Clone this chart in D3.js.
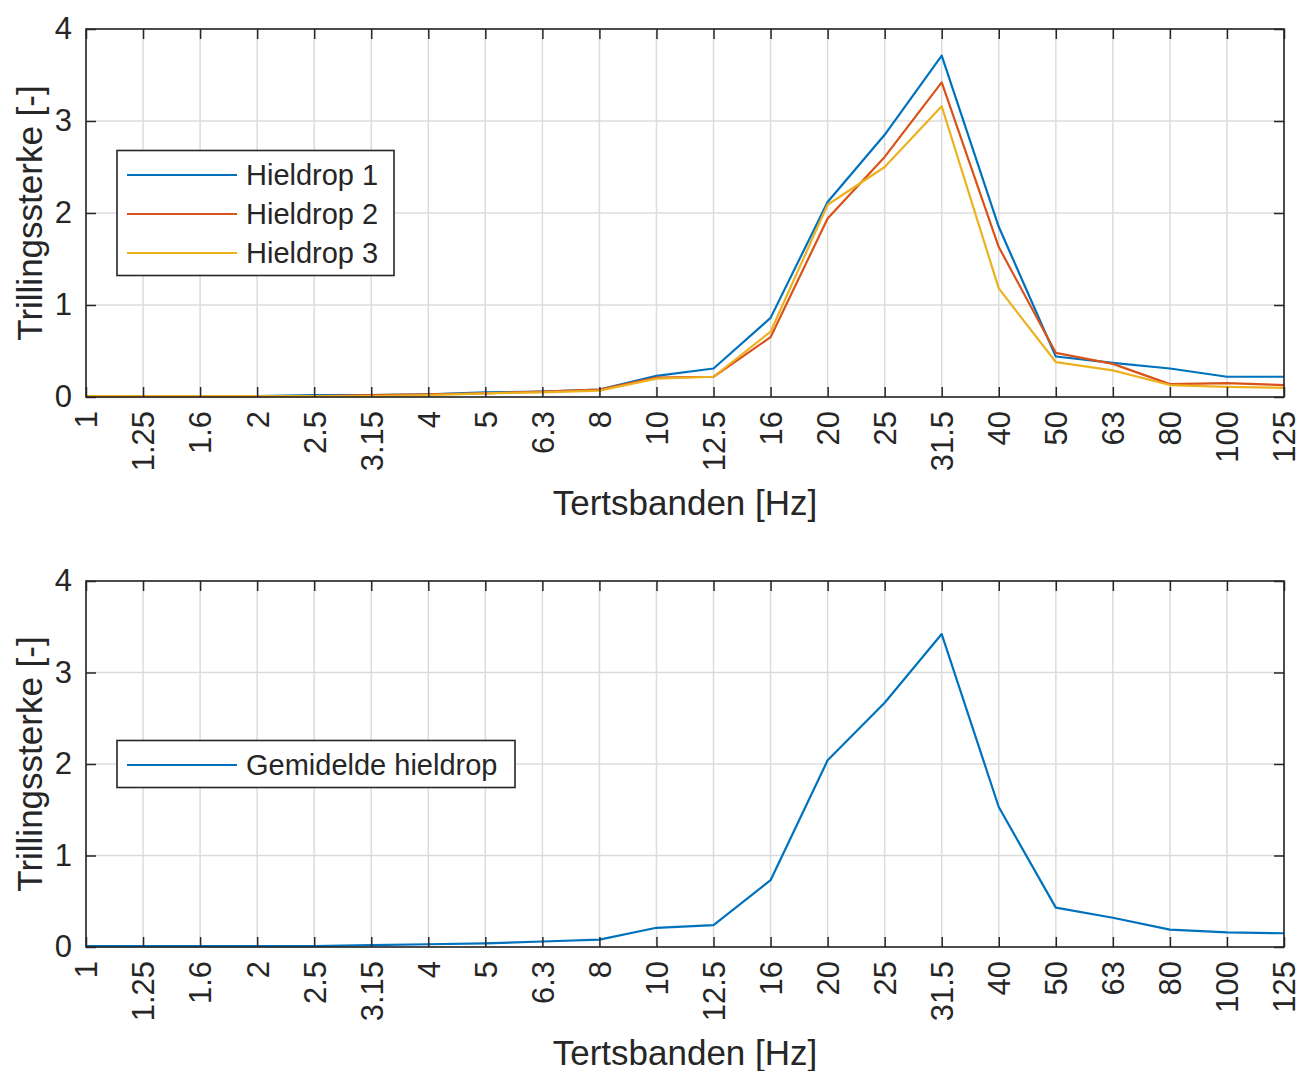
<!DOCTYPE html>
<html>
<head>
  <meta charset="utf-8">
  <title>Trillingssterke per tertsband</title>
  <script src="https://d3js.org/d3.v7.min.js"></script>
  <style>
    body { margin: 0; background: #fff; }
    text { font-family: "Liberation Sans", Arial, sans-serif; fill: #262626; }
  </style>
</head>
<body>
  <svg id="chart"></svg>

  <script>
    // tertsbanden (Hz)
    const bands = ["1", "1.25", "1.6", "2", "2.5", "3.15", "4", "5", "6.3", "8", "10",
      "12.5", "16", "20", "25", "31.5", "40", "50", "63", "80", "100", "125"];

    const hieldrop1 = [0.01, 0.01, 0.01, 0.01, 0.02, 0.02, 0.03, 0.05, 0.06, 0.08, 0.23,
      0.31, 0.86, 2.12, 2.85, 3.71, 1.85, 0.44, 0.37, 0.31, 0.22, 0.22];
    const hieldrop2 = [0.01, 0.01, 0.01, 0.01, 0.01, 0.02, 0.03, 0.04, 0.06, 0.08, 0.21,
      0.22, 0.65, 1.94, 2.61, 3.42, 1.63, 0.48, 0.36, 0.14, 0.15, 0.13];
    const hieldrop3 = [0.01, 0.01, 0.01, 0.01, 0.01, 0.01, 0.02, 0.04, 0.05, 0.07, 0.20,
      0.22, 0.71, 2.09, 2.50, 3.16, 1.18, 0.38, 0.29, 0.13, 0.11, 0.10];
    const gemiddeld = [0.01, 0.01, 0.01, 0.01, 0.01, 0.02, 0.03, 0.04, 0.06, 0.08, 0.21,
      0.24, 0.73, 2.04, 2.67, 3.42, 1.53, 0.43, 0.32, 0.19, 0.16, 0.15];

    const yTicks = [0, 1, 2, 3, 4];

    const width = 1302;
    const height = 1071;
    const svg = d3.select("#chart")
      .attr("width", width)
      .attr("height", height);

    const left = 86, right = 1284;
    const x = d3.scalePoint().domain(bands).range([left, right]);

    function panel(top, bottom, series, legendW) {
      const y = d3.scaleLinear().domain([0, 4]).range([bottom, top]);
      const g = svg.append("g");

      // grid
      g.append("g").selectAll("line").data(bands).join("line")
        .attr("x1", d => x(d)).attr("x2", d => x(d))
        .attr("y1", top).attr("y2", bottom)
        .attr("stroke", "#dcdcdc").attr("stroke-width", 1.5);
      g.append("g").selectAll("line").data(yTicks).join("line")
        .attr("x1", left).attr("x2", right)
        .attr("y1", d => y(d)).attr("y2", d => y(d))
        .attr("stroke", "#dcdcdc").attr("stroke-width", 1.5);

      // lines
      const line = d3.line().x((d, i) => x(bands[i])).y(d => y(d));
      series.forEach(s => {
        g.append("path").datum(s.values)
          .attr("d", line)
          .attr("fill", "none")
          .attr("stroke", s.color)
          .attr("stroke-width", 2.2)
          .attr("stroke-linejoin", "round");
      });

      // axes with inward ticks
      const xb = g.append("g").attr("transform", `translate(0,${bottom})`)
        .call(d3.axisBottom(x).tickSizeInner(-10).tickSizeOuter(0));
      xb.selectAll("text")
        .attr("transform", "rotate(-90)")
        .attr("x", -14).attr("y", 0).attr("dy", "0.35em")
        .attr("text-anchor", "end")
        .attr("font-size", 31);
      g.append("g").attr("transform", `translate(0,${top})`)
        .call(d3.axisTop(x).tickSizeInner(-10).tickSizeOuter(0).tickFormat(""));
      const yl = g.append("g").attr("transform", `translate(${left},0)`)
        .call(d3.axisLeft(y).tickValues(yTicks).tickFormat(d3.format("d"))
          .tickSizeInner(-10).tickSizeOuter(0).tickPadding(14));
      yl.selectAll("text").attr("font-size", 31);
      g.append("g").attr("transform", `translate(${right},0)`)
        .call(d3.axisRight(y).tickValues(yTicks).tickSizeInner(-10).tickSizeOuter(0).tickFormat(""));
      g.selectAll(".domain").remove();
      g.selectAll(".tick line").attr("stroke", "#262626").attr("stroke-width", 1.5);

      g.append("rect")
        .attr("x", left).attr("y", top)
        .attr("width", right - left).attr("height", bottom - top)
        .attr("fill", "none").attr("stroke", "#262626").attr("stroke-width", 1.6);

      // labels
      g.append("text")
        .attr("x", (left + right) / 2).attr("y", bottom + 118)
        .attr("text-anchor", "middle").attr("font-size", 35)
        .text("Tertsbanden [Hz]");
      g.append("text")
        .attr("transform", `translate(42,${(top + bottom) / 2}) rotate(-90)`)
        .attr("text-anchor", "middle").attr("font-size", 35)
        .text("Trillingssterke [-]");

      // legend
      const rowH = 39;
      const boxTop = y(2) - (series.length * rowH) / 2 - 4;
      const lg = g.append("g");
      lg.append("rect")
        .attr("x", 117).attr("y", boxTop)
        .attr("width", legendW).attr("height", series.length * rowH + 8)
        .attr("fill", "#fff").attr("stroke", "#262626").attr("stroke-width", 1.6);
      series.forEach((s, i) => {
        const cy = boxTop + 4 + rowH * i + rowH / 2 + 1;
        lg.append("line")
          .attr("x1", 127).attr("x2", 237)
          .attr("y1", cy).attr("y2", cy)
          .attr("stroke", s.color).attr("stroke-width", 2.2);
        lg.append("text")
          .attr("x", 246).attr("y", cy).attr("dy", "0.35em")
          .attr("font-size", 29).attr("fill", "#000")
          .text(s.name);
      });
    }

    panel(29, 397, [
      { name: "Hieldrop 1", values: hieldrop1, color: "#0072BD" },
      { name: "Hieldrop 2", values: hieldrop2, color: "#D95319" },
      { name: "Hieldrop 3", values: hieldrop3, color: "#EDB120" }
    ], 277);

    panel(581, 947, [
      { name: "Gemidelde hieldrop", values: gemiddeld, color: "#0072BD" }
    ], 398);
  </script>
</body>
</html>
